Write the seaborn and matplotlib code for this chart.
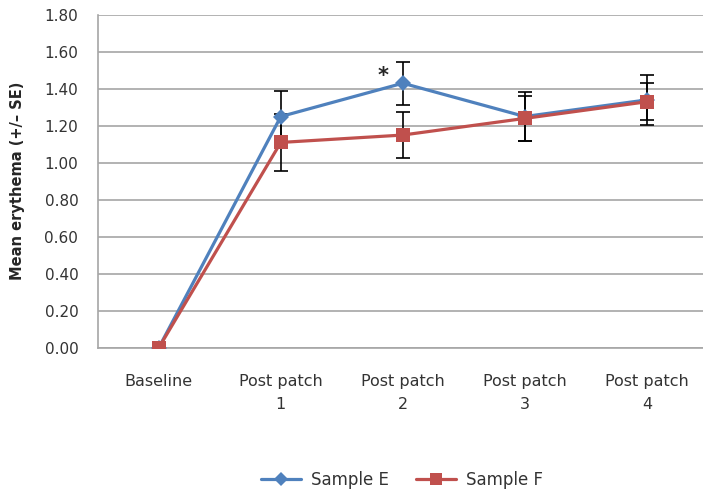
import pandas as pd
import matplotlib
matplotlib.use("Agg")
import matplotlib.pyplot as plt
import seaborn as sns
import numpy as np

# data
categories = ["Baseline", "Post patch\n1", "Post patch\n2", "Post patch\n3", "Post patch\n4"]
sample_e = [0.00, 1.25, 1.43, 1.25, 1.34]
sample_e_se = [0.00, 0.14, 0.115, 0.13, 0.135]
sample_f = [0.00, 1.11, 1.15, 1.24, 1.33]
sample_f_se = [0.00, 0.155, 0.125, 0.12, 0.10]

pos = np.arange(len(categories))
df = pd.concat([
    pd.DataFrame({"pos": pos, "val": sample_e, "se": sample_e_se, "grp": "Sample E"}),
    pd.DataFrame({"pos": pos, "val": sample_f, "se": sample_f_se, "grp": "Sample F"}),
])

sns.set_style("white")
plt.rcParams["font.family"] = ["DejaVu Sans"]

blue = "#4F81BD"
red = "#C0504D"
grid_c = "#A6A6A6"
txt_c = "#333333"

fig = plt.figure(figsize=(7.03, 4.92), dpi=100)
ax = fig.add_axes([0.139, 0.293, 0.868, 0.677])

ax.set_axisbelow(True)
ax.yaxis.grid(True, color=grid_c, linewidth=1.2)

# error bars (only where SE > 0)
for g in ["Sample E", "Sample F"]:
    d = df[(df["grp"] == g) & (df["se"] > 0)]
    ax.errorbar(d["pos"], d["val"], yerr=d["se"], fmt="none", ecolor="black",
                elinewidth=1.2, capsize=5, capthick=1.2, zorder=2)

sns.lineplot(data=df, x="pos", y="val", hue="grp", style="grp",
             palette={"Sample E": blue, "Sample F": red},
             markers={"Sample E": "D", "Sample F": "s"}, dashes=False,
             markersize=8, markeredgewidth=0, linewidth=2.3, ax=ax,
             legend=False, zorder=3)
for ln in ax.lines:
    if ln.get_marker() == "s":
        ln.set_markersize(9.5)

ax.text(1.84, 1.47, "*", fontsize=15, fontweight="bold", ha="center", va="center")

ax.set_xlim(-0.5, len(categories) - 0.5)
ax.set_ylim(0, 1.8)
ax.set_yticks(np.arange(0, 1.81, 0.2))
ax.set_yticklabels([f"{v:.2f}" for v in np.arange(0, 1.81, 0.2)], fontsize=11, color=txt_c)
ax.set_xticks(pos)
ax.set_xticklabels(categories, fontsize=11.5, color=txt_c, linespacing=1.65, va="top")
ax.set_xticks(np.arange(0.5, len(categories) - 0.5, 1), minor=True)
ax.tick_params(axis="x", which="major", length=0, pad=19)
ax.tick_params(axis="x", which="minor", length=5, color=grid_c, direction="out", width=1.2)
ax.tick_params(axis="y", length=6, color=grid_c, direction="out", width=1.2, pad=8)

for s in ["top", "right"]:
    ax.spines[s].set_visible(False)
ax.spines["left"].set_color(grid_c)
ax.spines["left"].set_linewidth(1.2)
ax.spines["bottom"].set_color(grid_c)
ax.spines["bottom"].set_linewidth(1.2)

ax.set_xlabel("")
ax.set_ylabel("Mean erythema (+/\u2013 SE)", fontsize=10.5, fontweight="bold", labelpad=14)

handles = [
    plt.Line2D([], [], color=blue, marker="D", markersize=7, linewidth=2.3, markeredgewidth=0),
    plt.Line2D([], [], color=red, marker="s", markersize=9, linewidth=2.3, markeredgewidth=0),
]
fig.legend(handles, ["Sample E", "Sample F"], loc="center", bbox_to_anchor=(0.572, 0.024),
           ncol=2, frameon=False, fontsize=12, handlelength=2.4, handletextpad=0.6,
           columnspacing=1.6, labelcolor=txt_c)

fig.savefig("out.png", dpi=100)
